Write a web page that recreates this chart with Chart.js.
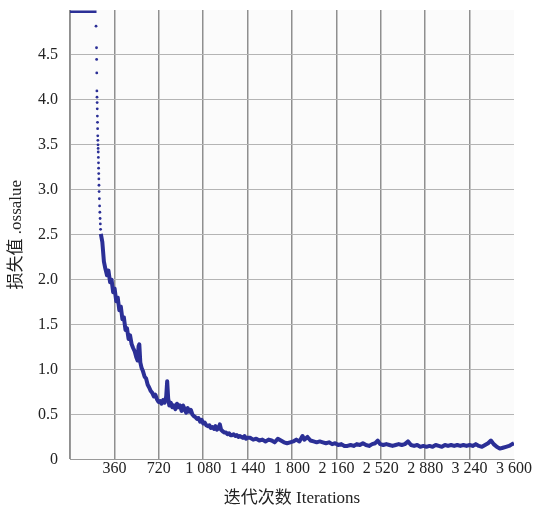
<!DOCTYPE html>
<html>
<head>
<meta charset="utf-8">
<script src="https://cdn.jsdelivr.net/npm/chart.js@4/dist/chart.umd.min.js"></script>
<style>
  html, body { margin: 0; padding: 0; background: #fff; }
  #wrap { width: 541px; height: 514px; }
</style>
</head>
<body>
<div id="wrap"><canvas id="loss-chart" width="541" height="514"></canvas></div>
<script>
// flat start (value clipped at top of the plot)
var flatIters = [0, 215];
var flatLoss = [4.98, 4.98];

// sparse dots while the loss drops fast
var dotIters = [211, 215, 216, 217, 218, 219, 220, 221, 222, 223, 224, 225, 226, 227, 228,
  229, 230, 231, 232, 233, 234, 235, 236, 238, 240, 242, 244, 246, 248];
var dotLoss = [4.82, 4.58, 4.45, 4.3, 4.1, 4.03, 3.97, 3.9, 3.82, 3.75, 3.68, 3.6, 3.55, 3.5, 3.46,
  3.42, 3.36, 3.3, 3.24, 3.18, 3.12, 3.05, 2.98, 2.9, 2.82, 2.75, 2.68, 2.62, 2.56];

// dense noisy part
var iters = [250, 262, 275, 287, 300, 312, 325, 337, 350, 362, 375, 387, 400, 412, 425, 437, 450, 462,
  475, 487, 500, 512, 525, 537, 548, 556, 562, 570, 580, 592, 605, 617, 630, 642, 655, 667, 680, 692,
  705, 717, 730, 742, 755, 767, 780, 788, 796, 805, 817, 830, 842, 855, 867, 880, 892, 905, 917, 930,
  942, 955, 967, 980, 992, 1005, 1017, 1030, 1042, 1055, 1067, 1080, 1092, 1105, 1117, 1130, 1142,
  1155, 1167, 1180, 1192, 1205, 1215, 1225, 1240, 1252, 1265, 1277, 1290, 1302, 1315, 1327, 1340,
  1352, 1365, 1377, 1390, 1402, 1415, 1427, 1440, 1460,
  1485, 1510, 1535, 1560, 1585, 1610, 1635, 1660, 1685, 1710, 1735, 1760, 1785, 1810, 1835, 1860,
  1885, 1900, 1925, 1950, 1975, 2000, 2025, 2050, 2075, 2100, 2125, 2150, 2175, 2200, 2225, 2250,
  2275, 2300, 2325, 2350, 2375, 2400, 2425, 2450, 2475, 2495, 2515, 2540, 2565, 2590, 2615, 2640,
  2665, 2690, 2715, 2740, 2765, 2790, 2815, 2840, 2865, 2890, 2915, 2940, 2965, 2990, 3015, 3040,
  3065, 3090, 3115, 3140, 3165, 3190, 3215, 3240, 3265, 3290, 3315, 3340, 3365, 3390, 3413, 3435,
  3460, 3485, 3510, 3535, 3560, 3585, 3600];
var loss = [2.51, 2.42, 2.2, 2.12, 2.05, 2.1, 1.97, 2.0, 1.86, 1.9, 1.76, 1.8, 1.66, 1.7, 1.56, 1.58, 1.44, 1.46,
  1.34, 1.38, 1.28, 1.24, 1.2, 1.14, 1.1, 1.26, 1.28, 1.08, 1.02, 0.98, 0.92, 0.9, 0.83, 0.8, 0.76, 0.74, 0.7, 0.72,
  0.67, 0.64, 0.65, 0.62, 0.66, 0.63, 0.7, 0.87, 0.68, 0.6, 0.63, 0.58, 0.6, 0.56, 0.62, 0.58, 0.6, 0.54, 0.6, 0.56,
  0.52, 0.57, 0.53, 0.55, 0.5, 0.48, 0.47, 0.45, 0.46, 0.42, 0.44, 0.4, 0.41, 0.38, 0.37, 0.38, 0.35,
  0.36, 0.34, 0.37, 0.33, 0.35, 0.39, 0.33, 0.31, 0.3, 0.3, 0.28, 0.29, 0.27, 0.27, 0.28, 0.26,
  0.27, 0.25, 0.26, 0.25, 0.24, 0.26, 0.23, 0.24, 0.24,
  0.22, 0.23, 0.21, 0.22, 0.2, 0.22, 0.21, 0.19, 0.23, 0.21, 0.19, 0.18, 0.19, 0.2, 0.22, 0.2,
  0.26, 0.22, 0.25, 0.21, 0.2, 0.19, 0.2, 0.19, 0.18, 0.19, 0.17, 0.18, 0.16, 0.17, 0.15, 0.15,
  0.16, 0.15, 0.17, 0.16, 0.18, 0.16, 0.15, 0.17, 0.18, 0.21, 0.17, 0.16, 0.17, 0.16, 0.15, 0.16,
  0.17, 0.16, 0.17, 0.2, 0.16, 0.15, 0.16, 0.14, 0.15, 0.14, 0.15, 0.14, 0.16, 0.15, 0.14, 0.16,
  0.15, 0.16, 0.15, 0.16, 0.15, 0.16, 0.15, 0.16, 0.15, 0.17, 0.15, 0.14, 0.16, 0.18, 0.21, 0.17,
  0.14, 0.12, 0.13, 0.14, 0.15, 0.17, 0.18];

var xTitle = '迭代次数 Iterations';
var yTitle = '损失值 .ossalue';

function pts(xs, ys){
  var out = [];
  for(var i=0;i<xs.length;i++){
    out.push({x: xs[i], y: ys[i]});
  }
  return out;
}

function fmtThousands(v){
  var s = String(v);
  return s.replace(/\B(?=(\d{3})+(?!\d))/g, ' ');
}

var blue = '#2b2f96';
var serif = "'Liberation Serif', 'Noto Sans CJK SC', serif";

// light plot background
var plotBg = {
  id: 'plotBg',
  beforeDraw: function(c){
    var a = c.chartArea, ctx = c.ctx;
    ctx.save();
    ctx.fillStyle = '#fbfbfb';
    ctx.fillRect(a.left, a.top, a.right - a.left, a.bottom - a.top);
    ctx.restore();
  }
};

var chart = new Chart(document.getElementById('loss-chart'), {
  type: 'line',
  data: {
    datasets: [
      { data: pts(flatIters, flatLoss), borderColor: blue, borderWidth: 2.5, pointRadius: 0 },
      { data: pts(dotIters, dotLoss), showLine: false, pointRadius: 1.4, pointBackgroundColor: blue, pointBorderWidth: 0 },
      { data: pts(iters, loss), borderColor: blue, borderWidth: 4, pointRadius: 0, tension: 0, borderJoinStyle: 'round' }
    ]
  },
  options: {
    responsive: false,
    animation: false,
    layout: { padding: { top: 10, right: 27, left: 0, bottom: 5 } },
    plugins: { legend: { display: false }, tooltip: { enabled: false } },
    scales: {
      x: {
        type: 'linear',
        min: 0, max: 3600,
        border: { color: '#999', width: 1 },
        grid: {
          drawTicks: false,
          lineWidth: 1.5,
          color: function(ctx){ return (ctx.tick && ctx.tick.value === 3600) ? 'rgba(0,0,0,0)' : '#8f8f8f'; }
        },
        ticks: {
          stepSize: 360,
          padding: 0,
          maxRotation: 0,
          autoSkip: false,
          color: '#222',
          font: { family: serif, size: 16 },
          callback: function(v){ return v === 0 ? '' : fmtThousands(v); }
        },
        title: { display: true, text: xTitle, color: '#222', font: { family: serif, size: 17 }, padding: { top: 10, bottom: 0 } }
      },
      y: {
        min: 0, max: 5,
        border: { color: '#999', width: 1 },
        afterFit: function(axis){
          axis.width = 70;
          axis.paddingTop = 0;
          axis.paddingBottom = 0;
        },
        afterBuildTicks: function(axis){
          axis.ticks = axis.ticks.filter(function(t){ return t.value !== 5; });
        },
        grid: {
          drawTicks: false,
          color: '#b4b4b4'
        },
        ticks: {
          stepSize: 0.5,
          padding: 12,
          color: '#222',
          font: { family: serif, size: 16 },
          callback: function(v){ if(v === 0) return '0'; return v.toFixed(1); }
        },
        title: { display: true, text: yTitle, color: '#222', font: { family: serif, size: 17 }, padding: { top: 6, bottom: 0 } }
      }
    }
  },
  plugins: [plotBg]
});
</script>
</body>
</html>
